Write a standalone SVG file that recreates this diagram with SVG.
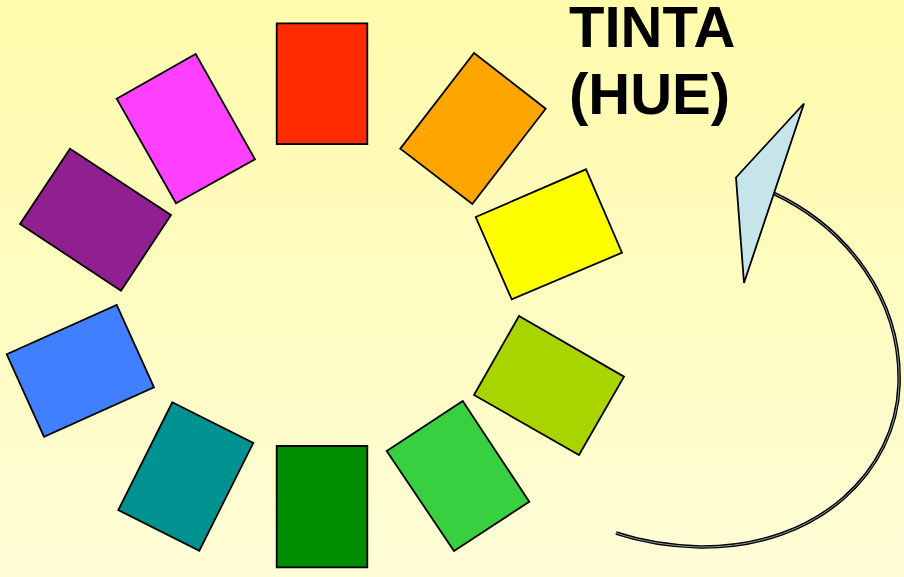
<svg xmlns="http://www.w3.org/2000/svg" width="904" height="577" viewBox="0 0 904 577">
<defs>
<linearGradient id="bg" x1="0" y1="0" x2="0" y2="1">
<stop offset="0" stop-color="#FFFBAC"/>
<stop offset="1" stop-color="#FFFDD6"/>
</linearGradient>
</defs>
<style>
.sw{stroke:#000;stroke-width:1.8;stroke-linejoin:miter}
.t{font-family:"Liberation Sans",Arial,sans-serif;font-weight:bold;font-size:58px;fill:#000}
</style>
<rect width="904" height="577" fill="url(#bg)"/>
<g id="red"><polygon class="sw" fill="#FF2A00" points="276.7,23.3 367.3,23.3 367.3,144 276.7,144"/></g>
<g id="orange"><polygon class="sw" fill="#FFA500" points="474,53 545.7,108.7 472.3,204 400.3,148.7"/></g>
<g id="yellow"><polygon class="sw" fill="#FFFF00" points="475.7,217 586,169.3 622,252.7 511.7,299.3"/></g>
<g id="yellowgreen"><polygon class="sw" fill="#A8D400" points="474,395 519,316 624,376.7 579,455"/></g>
<g id="lightgreen"><polygon class="sw" fill="#38D040" points="386.7,451 462.7,401 529.3,501.7 454,551"/></g>
<g id="darkgreen"><polygon class="sw" fill="#008E00" points="276.7,446 367.3,446 367.3,567.3 276.7,567.3"/></g>
<g id="teal"><polygon class="sw" fill="#009191" points="172.3,402.3 253.3,443 199.3,550.7 118.3,510"/></g>
<g id="blue"><polygon class="sw" fill="#4080FF" points="6.7,354.3 116.7,305 154,387.3 44,436.7"/></g>
<g id="purple"><polygon class="sw" fill="#902090" points="20,224 70,148.7 171,215 121,290.7"/></g>
<g id="magenta"><polygon class="sw" fill="#FF40FF" points="116.7,98.7 195.7,54 255,159.3 176,203.3"/></g>
<g id="label">
<text class="t" x="569" y="46.5">TINTA</text>
<text class="t" x="569" y="113.5">(HUE)</text>
</g>
<g id="connectors">
<path d="M773,193 C848,228 902,300 899,385 C896,470 820,548 700,547 C668,546 640,541 616,533" fill="none" stroke="#000" stroke-width="3.6"/>
<path d="M773,193 C848,228 902,300 899,385 C896,470 820,548 700,547 C668,546 640,541 616,533" fill="none" stroke="#8a9aa0" stroke-width="1"/>
<polygon class="sw" fill="#C5E5EA" points="804,103.5 736,177.5 744,283"/>
</g>
</svg>
